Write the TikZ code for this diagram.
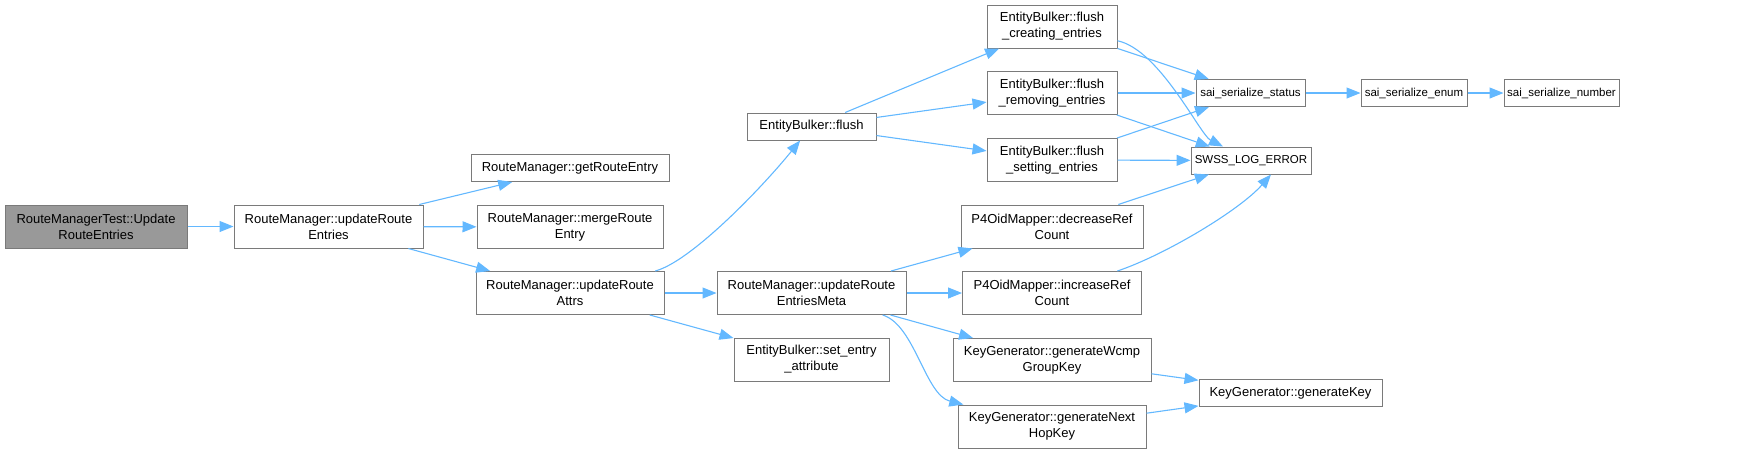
\documentclass[tikz,border=0pt]{standalone}
\usepackage{fontspec}
\setmainfont{Liberation Sans}
\usetikzlibrary{arrows.meta}
\definecolor{edgeblue}{HTML}{63B8FF}
\definecolor{boxgray}{HTML}{7A7A7A}
\definecolor{startgray}{HTML}{999999}

\begin{document}
\begin{tikzpicture}[x=1pt, y=-1pt,
  every node/.style={rectangle, draw=boxgray, line width=1pt, fill=white, inner sep=0pt, align=center, font=\fontsize{13}{16}\selectfont},
  one/.style={minimum height=27pt},
  two/.style={minimum height=43pt},
  small/.style={font=\fontsize{11.5}{16}\selectfont},
  call/.style={draw=edgeblue, line width=1.1pt, -{Triangle[length=14pt,width=11pt, fill=edgeblue]}}]
	\useasboundingbox (0,0) rectangle (1758,453);
	
	\node[two, fill=startgray, minimum width=182pt] (test) at (96,226.5) {RouteManagerTest::Update\\RouteEntries};
	\node[two, minimum width=189pt] (ure) at (328.5,226.5) {RouteManager::updateRoute\\Entries};
	\node[one, minimum width=198pt] (gre) at (570,168) {RouteManager::getRouteEntry};
	\node[two, minimum width=186pt] (mre) at (570,227) {RouteManager::mergeRoute\\Entry};
	\node[two, minimum width=188pt] (ura) at (570,293) {RouteManager::updateRoute\\Attrs};
	\node[one, minimum width=129pt] (flu) at (811.5,126.5) {EntityBulker::flush};
	\node[two, minimum width=189pt] (meta) at (811.5,293) {RouteManager::updateRoute\\EntriesMeta};
	\node[two, minimum width=155pt] (sea) at (811.5,359.5) {EntityBulker::set\_entry\\\_attribute};
	\node[two, minimum width=130pt] (cre) at (1052,26.5) {EntityBulker::flush\\\_creating\_entries};
	\node[two, minimum width=130pt] (rem) at (1052,93) {EntityBulker::flush\\\_removing\_entries};
	\node[two, minimum width=130pt] (setent) at (1052,160) {EntityBulker::flush\\\_setting\_entries};
	\node[two, minimum width=182pt] (dec) at (1052,226.5) {P4OidMapper::decreaseRef\\Count};
	\node[two, minimum width=179pt] (inc) at (1052,293) {P4OidMapper::increaseRef\\Count};
	\node[two, minimum width=198pt] (wcmp) at (1052,360) {KeyGenerator::generateWcmp\\GroupKey};
	\node[two, minimum width=188pt] (nhk) at (1052,426.5) {KeyGenerator::generateNext\\HopKey};
	\node[one, small, minimum width=120pt] (swss) at (1251,160.5) {SWSS\_LOG\_ERROR};
	\node[one, small, minimum width=109pt] (sta) at (1250.5,93) {sai\_serialize\_status};
	\node[one, small, minimum width=106pt] (enu) at (1414,93) {sai\_serialize\_enum};
	\node[one, small, minimum width=115pt] (num) at (1561.5,93) {sai\_serialize\_number};
	\node[one, minimum width=183pt] (gk) at (1290.5,393) {KeyGenerator::generateKey};
	
	\draw[call] (test) -- (ure);
	\draw[call] (ure) -- (gre);
	\draw[call] (ure) -- (mre);
	\draw[call] (ure) -- (ura);
	\draw[call] (ura) .. controls (690,262) and (760,190) .. (flu);
	\draw[call] (ura) -- (meta);
	\draw[call] (ura) -- (sea);
	\draw[call] (flu) -- (cre);
	\draw[call] (flu) -- (rem);
	\draw[call] (flu) -- (setent);
	\draw[call] (cre) -- (sta);
	\draw[call] (cre) .. controls (1160,50) and (1200,135) .. (swss);
	\draw[call] (rem) -- (sta);
	\draw[call] (rem) -- (swss);
	\draw[call] (setent) -- (sta);
	\draw[call] (setent) -- (swss);
	\draw[call] (sta) -- (enu);
	\draw[call] (enu) -- (num);
	\draw[call] (meta) -- (dec);
	\draw[call] (meta) -- (inc);
	\draw[call] (meta) -- (wcmp);
	\draw[call] (meta) .. controls (915,325) and (925,395) .. (nhk);
	\draw[call] (dec) -- (swss);
	\draw[call] (inc) .. controls (1165,255) and (1240,210) .. (swss.-35);
	\draw[call] (wcmp) -- (gk);
	\draw[call] (nhk) -- (gk);
\end{tikzpicture}
\end{document}
